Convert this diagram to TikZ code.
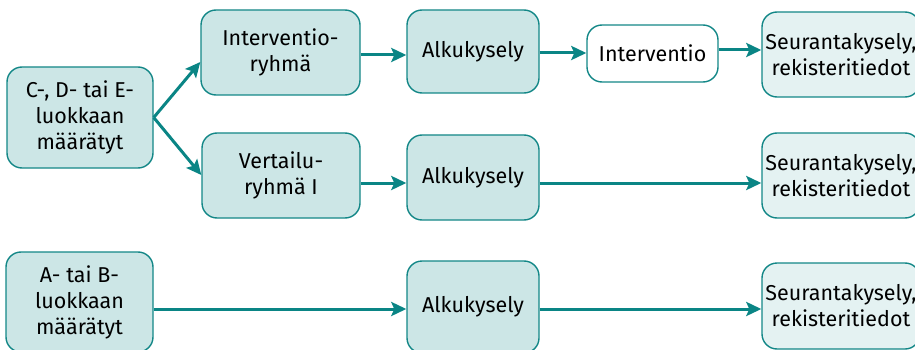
\documentclass[tikz,border=0pt]{standalone}
\usepackage{fontspec}
\setmainfont{Fira Sans}
\usetikzlibrary{arrows.meta}
\definecolor{tealline}{HTML}{138787}
\definecolor{tealarrow}{HTML}{0A8585}
\definecolor{boxfill}{HTML}{CCE6E6}
\definecolor{lightfill}{HTML}{E4F2F2}
\tikzset{
  base/.style={draw=tealline, line width=1.4pt, rounded corners=15pt, align=center,
    font=\fontsize{21.5}{26}\selectfont, inner sep=0pt},
  darkbox/.style={base, fill=boxfill},
  lightbox/.style={base, fill=lightfill},
  whitebox/.style={base, fill=white},
  arr/.style={draw=tealarrow, line width=3pt, -{Stealth[length=15pt,width=14pt,inset=3pt]}},
}
\begin{document}
\begin{tikzpicture}[x=1pt,y=-1pt]
\useasboundingbox (0,0) rectangle (915,350);
\begin{scope}
\clip (0,0) rectangle (915,350);
% row 1
\node[darkbox, minimum width=146pt, minimum height=101pt] (cde) at (80,117.5) {C-, D- tai E-\\luokkaan\\määrätyt};
\node[darkbox, minimum width=159pt, minimum height=85pt] (ir) at (280.5,52.5) {Interventio-\\ryhmä};
\node[darkbox, minimum width=132pt, minimum height=83pt] (a1) at (473,51.5) {Alkukysely};
\node[whitebox, minimum width=131pt, minimum height=57pt] (iv) at (652.5,53.5) {Interventio};
\node[lightbox, minimum width=158pt, minimum height=85pt] (s1) at (841,54.5) {Seurantakysely,\\rekisteritiedot};
% row 2
\node[darkbox, minimum width=158pt, minimum height=85pt] (vr) at (281,175.5) {Vertailu-\\ryhmä I};
\node[darkbox, minimum width=132pt, minimum height=85pt] (a2) at (473,177.5) {Alkukysely};
\node[lightbox, minimum width=158pt, minimum height=85pt] (s2) at (841,175.5) {Seurantakysely,\\rekisteritiedot};
% row 3
\node[darkbox, minimum width=147pt, minimum height=100pt] (ab) at (79.5,302) {A- tai B-\\luokkaan\\määrätyt};
\node[darkbox, minimum width=132pt, minimum height=92pt] (a3) at (473,307) {Alkukysely};
\node[lightbox, minimum width=158pt, minimum height=86pt] (s3) at (841,306) {Seurantakysely,\\rekisteritiedot};
\end{scope}
% connectors
\coordinate (split) at (cde.east);
\draw[arr] (split) -- (ir.west |- 0,62);
\draw[arr] (split) -- (vr.west |- 0,175);
\draw[arr] (ir.east |- 0,55) -- (a1.west |- 0,55);
\draw[arr] (a1.east |- 0,53) -- (iv.west |- 0,53);
\draw[arr] (iv.east |- 0,50) -- (s1.west |- 0,50);
\draw[arr] (vr.east |- 0,183) -- (a2.west |- 0,183);
\draw[arr] (a2.east |- 0,183) -- (s2.west |- 0,183);
\draw[arr] (ab.east |- 0,309) -- (a3.west |- 0,309);
\draw[arr] (a3.east |- 0,309) -- (s3.west |- 0,309);
\end{tikzpicture}
\end{document}
